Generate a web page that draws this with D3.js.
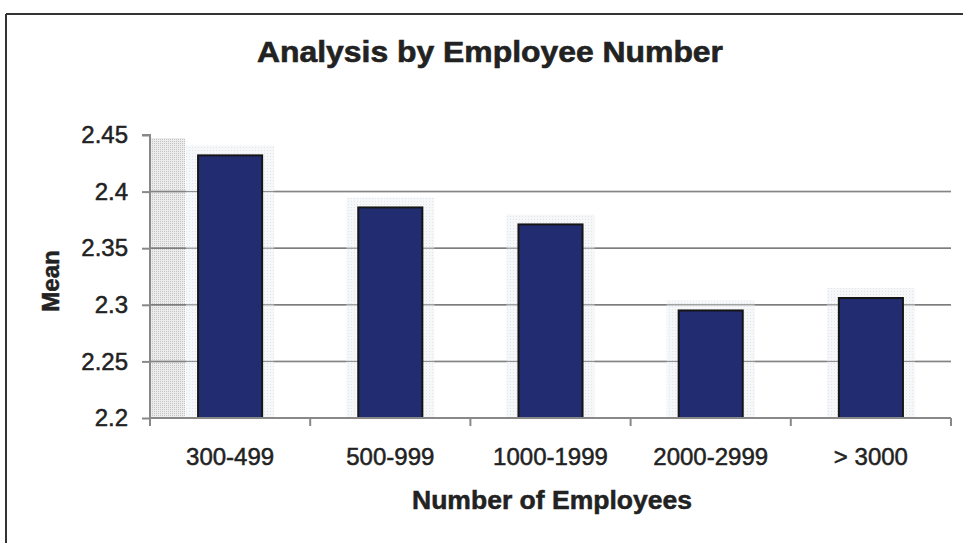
<!DOCTYPE html>
<html>
<head>
<meta charset="utf-8">
<script src="https://cdn.jsdelivr.net/npm/d3@7"></script>
<style>
  body { margin: 0; background: #fff; }
  svg { display: block; }
  text { font-family: "Liberation Sans", Arial, sans-serif; fill: #222; }
</style>
</head>
<body>
<div id="chart"></div>
<script>
// chart values
var categories = ["300-499", "500-999", "1000-1999", "2000-2999", "> 3000"];
var means = [2.432, 2.386, 2.371, 2.295, 2.306];
var yTicks = [2.2, 2.25, 2.3, 2.35, 2.4, 2.45];

var svgWidth = 963, svgHeight = 543;
var margin = { top: 135, right: 12, bottom: 125, left: 150 };
var width = svgWidth - margin.left - margin.right;
var height = svgHeight - margin.top - margin.bottom;

var svg = d3.select("#chart").append("svg")
  .attr("width", svgWidth)
  .attr("height", svgHeight);

// dotted textures (scan look)
var defs = svg.append("defs");
var pat = defs.append("pattern").attr("id", "dots").attr("width", 3).attr("height", 3)
  .attr("patternUnits", "userSpaceOnUse");
pat.append("rect").attr("width", 3).attr("height", 3).attr("fill", "#f3f5f8");
pat.append("rect").attr("width", 1).attr("height", 1).attr("fill", "#dde1e7");
var pat2 = defs.append("pattern").attr("id", "dots2").attr("width", 2).attr("height", 2)
  .attr("patternUnits", "userSpaceOnUse");
pat2.append("rect").attr("width", 2).attr("height", 2).attr("fill", "#ececec");
pat2.append("rect").attr("width", 1).attr("height", 1).attr("fill", "#c4c4c4");

// outer frame
svg.append("line").attr("x1", 6).attr("x2", svgWidth).attr("y1", 14).attr("y2", 14)
  .attr("stroke", "#333").attr("stroke-width", 2);
svg.append("line").attr("x1", 6).attr("x2", 6).attr("y1", 14).attr("y2", svgHeight)
  .attr("stroke", "#333").attr("stroke-width", 2);

var chartGroup = svg.append("g")
  .attr("transform", `translate(${margin.left}, ${margin.top})`);

var x = d3.scaleBand().domain(categories).range([0, width]).paddingInner(0.6).paddingOuter(0.3);
var xOuter = d3.scaleBand().domain(categories).range([0, width]);
var y = d3.scaleLinear().domain([2.2, 2.45]).range([height, 0]);

// shaded strip left of first bar
chartGroup.append("rect")
  .attr("x", 0).attr("y", 3)
  .attr("width", x(categories[0]) - 13)
  .attr("height", height - 3)
  .attr("fill", "url(#dots2)");

var gridVals = yTicks.filter(d => d > 2.2 && d < 2.45);

// gridlines
chartGroup.selectAll(".grid")
  .data(gridVals)
  .enter().append("line")
  .attr("x1", 0).attr("x2", width)
  .attr("y1", d => y(d)).attr("y2", d => y(d))
  .attr("stroke", "#666").attr("stroke-width", 1.5);

// light halos behind bars
chartGroup.selectAll(".halo")
  .data(means).enter().append("rect")
  .attr("x", (d, i) => x(categories[i]) - 12)
  .attr("y", d => y(d) - 10)
  .attr("width", x.bandwidth() + 24)
  .attr("height", d => height - y(d) + 10)
  .attr("fill", "url(#dots)").attr("opacity", 0.85);

// gridlines visible through halos (faint)
chartGroup.selectAll(".grid2")
  .data(gridVals)
  .enter().append("line")
  .attr("x1", 0).attr("x2", width)
  .attr("y1", d => y(d)).attr("y2", d => y(d))
  .attr("stroke", "#888").attr("stroke-width", 1);

// bars
chartGroup.selectAll(".bar")
  .data(means).enter().append("rect")
  .attr("x", (d, i) => x(categories[i]))
  .attr("y", d => y(d))
  .attr("width", x.bandwidth())
  .attr("height", d => height - y(d))
  .attr("fill", "#222c70")
  .attr("stroke", "#151515").attr("stroke-width", 2);

// y axis
var leftAxis = d3.axisLeft(y).tickValues(yTicks).tickSize(8).tickPadding(14)
  .tickFormat(d3.format("~g"));
var yAxis = chartGroup.append("g").call(leftAxis);
yAxis.select(".domain").attr("stroke", "#888").attr("stroke-width", 2)
  .attr("d", `M-8,0H0V${height + 8}`);
yAxis.selectAll(".tick line").attr("stroke", "#888").attr("stroke-width", 2);
yAxis.selectAll("text").attr("font-size", 24).attr("fill", "#222")
  .attr("stroke", "#222").attr("stroke-width", 0.5)
  .attr("font-family", "Liberation Sans, Arial, sans-serif");

// x axis: ticks between categories
chartGroup.append("line").attr("x1", 0).attr("x2", width)
  .attr("y1", height).attr("y2", height)
  .attr("stroke", "#888").attr("stroke-width", 2);
var bounds = categories.map(c => xOuter(c)).concat([width]);
chartGroup.selectAll(".xtick").data(bounds).enter().append("line")
  .attr("x1", d => d).attr("x2", d => d)
  .attr("y1", height).attr("y2", height + 8)
  .attr("stroke", "#888").attr("stroke-width", 2);
chartGroup.selectAll(".xlabel").data(categories).enter().append("text")
  .attr("x", d => xOuter(d) + xOuter.bandwidth() / 2)
  .attr("y", height + 47)
  .attr("text-anchor", "middle")
  .attr("font-size", 24)
  .attr("stroke", "#222").attr("stroke-width", 0.5)
  .text(d => d);

// titles
svg.append("text")
  .attr("x", 490).attr("y", 62)
  .attr("text-anchor", "middle")
  .attr("font-size", 29).attr("font-weight", "bold")
  .attr("textLength", 466).attr("lengthAdjust", "spacingAndGlyphs")
  .attr("stroke", "#222").attr("stroke-width", 0.6)
  .text("Analysis by Employee Number");

svg.append("text")
  .attr("x", 552).attr("y", 509)
  .attr("text-anchor", "middle")
  .attr("font-size", 25).attr("font-weight", "bold")
  .attr("textLength", 280).attr("lengthAdjust", "spacingAndGlyphs")
  .attr("stroke", "#222").attr("stroke-width", 0.5)
  .text("Number of Employees");

svg.append("text")
  .attr("transform", "translate(59, 281) rotate(-90)")
  .attr("text-anchor", "middle")
  .attr("font-size", 24).attr("font-weight", "bold")
  .attr("stroke", "#222").attr("stroke-width", 0.5)
  .text("Mean");
</script>
</body>
</html>
